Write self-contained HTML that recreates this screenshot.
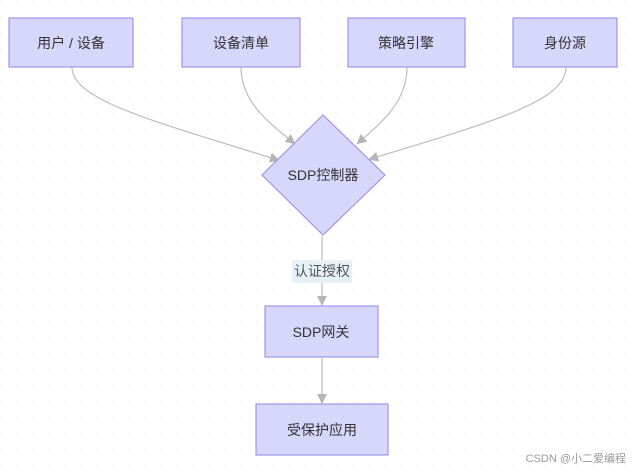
<!DOCTYPE html>
<html><head><meta charset="utf-8"><style>
body{margin:0;background:#fff;}
svg text{font-family:"Liberation Sans","Noto Sans CJK SC",sans-serif;}
</style></head><body>
<svg width="635" height="469" viewBox="0 0 635 469" xmlns="http://www.w3.org/2000/svg">
<defs>
<pattern id="dots" width="16" height="16" patternUnits="userSpaceOnUse"><circle cx="2" cy="2" r="0.8" fill="#e8e8e8"/></pattern>
<marker id="ar" markerWidth="10" markerHeight="10" refX="8" refY="5" orient="auto" markerUnits="userSpaceOnUse"><path d="M0,0 L10,5 L0,10 z" fill="#b5b5b5"/></marker>
</defs>
<rect width="635" height="469" fill="url(#dots)"/>
<g fill="none" stroke="#bdbdbd" stroke-width="1.2">
<path d="M72,67 C72,100 150,120 278,160" marker-end="url(#ar)"/>
<path d="M241,67 C241,100 265,120 294,143" marker-end="url(#ar)"/>
<path d="M407,67 C407,100 385,120 358,143" marker-end="url(#ar)"/>
<path d="M566,67 C566,100 500,120 370,159" marker-end="url(#ar)"/>
<path d="M322,236 L322,304" marker-end="url(#ar)"/>
<path d="M322,358 L322,402" marker-end="url(#ar)"/>
</g>
<g fill="#d7d6fb" stroke="#9d97e8" stroke-width="1.2">
<rect x="9" y="18" width="124" height="49"/>
<rect x="182" y="18" width="118" height="49"/>
<rect x="348" y="18" width="117" height="49"/>
<rect x="513" y="18" width="104" height="49"/>
<path d="M323,115 L385,175 L323,235 L262,175 z"/>
<rect x="265" y="306" width="113" height="51"/>
<rect x="256" y="404" width="132" height="51"/>
</g>
<rect x="292" y="260" width="60" height="23" fill="#e7f1f8"/>
<g font-size="14" fill="#333" text-anchor="middle">
<text x="71" y="48">用户 / 设备</text>
<text x="241" y="48">设备清单</text>
<text x="406" y="48">策略引擎</text>
<text x="565" y="48">身份源</text>
<text x="323" y="180">SDP控制器</text>
<text x="322" y="276" fill="#555">认证授权</text>
<text x="321" y="337">SDP网关</text>
<text x="322" y="435">受保护应用</text>
</g>
<text x="626" y="462" font-size="11" fill="#999" text-anchor="end">CSDN @小二爱编程</text>
</svg>
</body></html>
